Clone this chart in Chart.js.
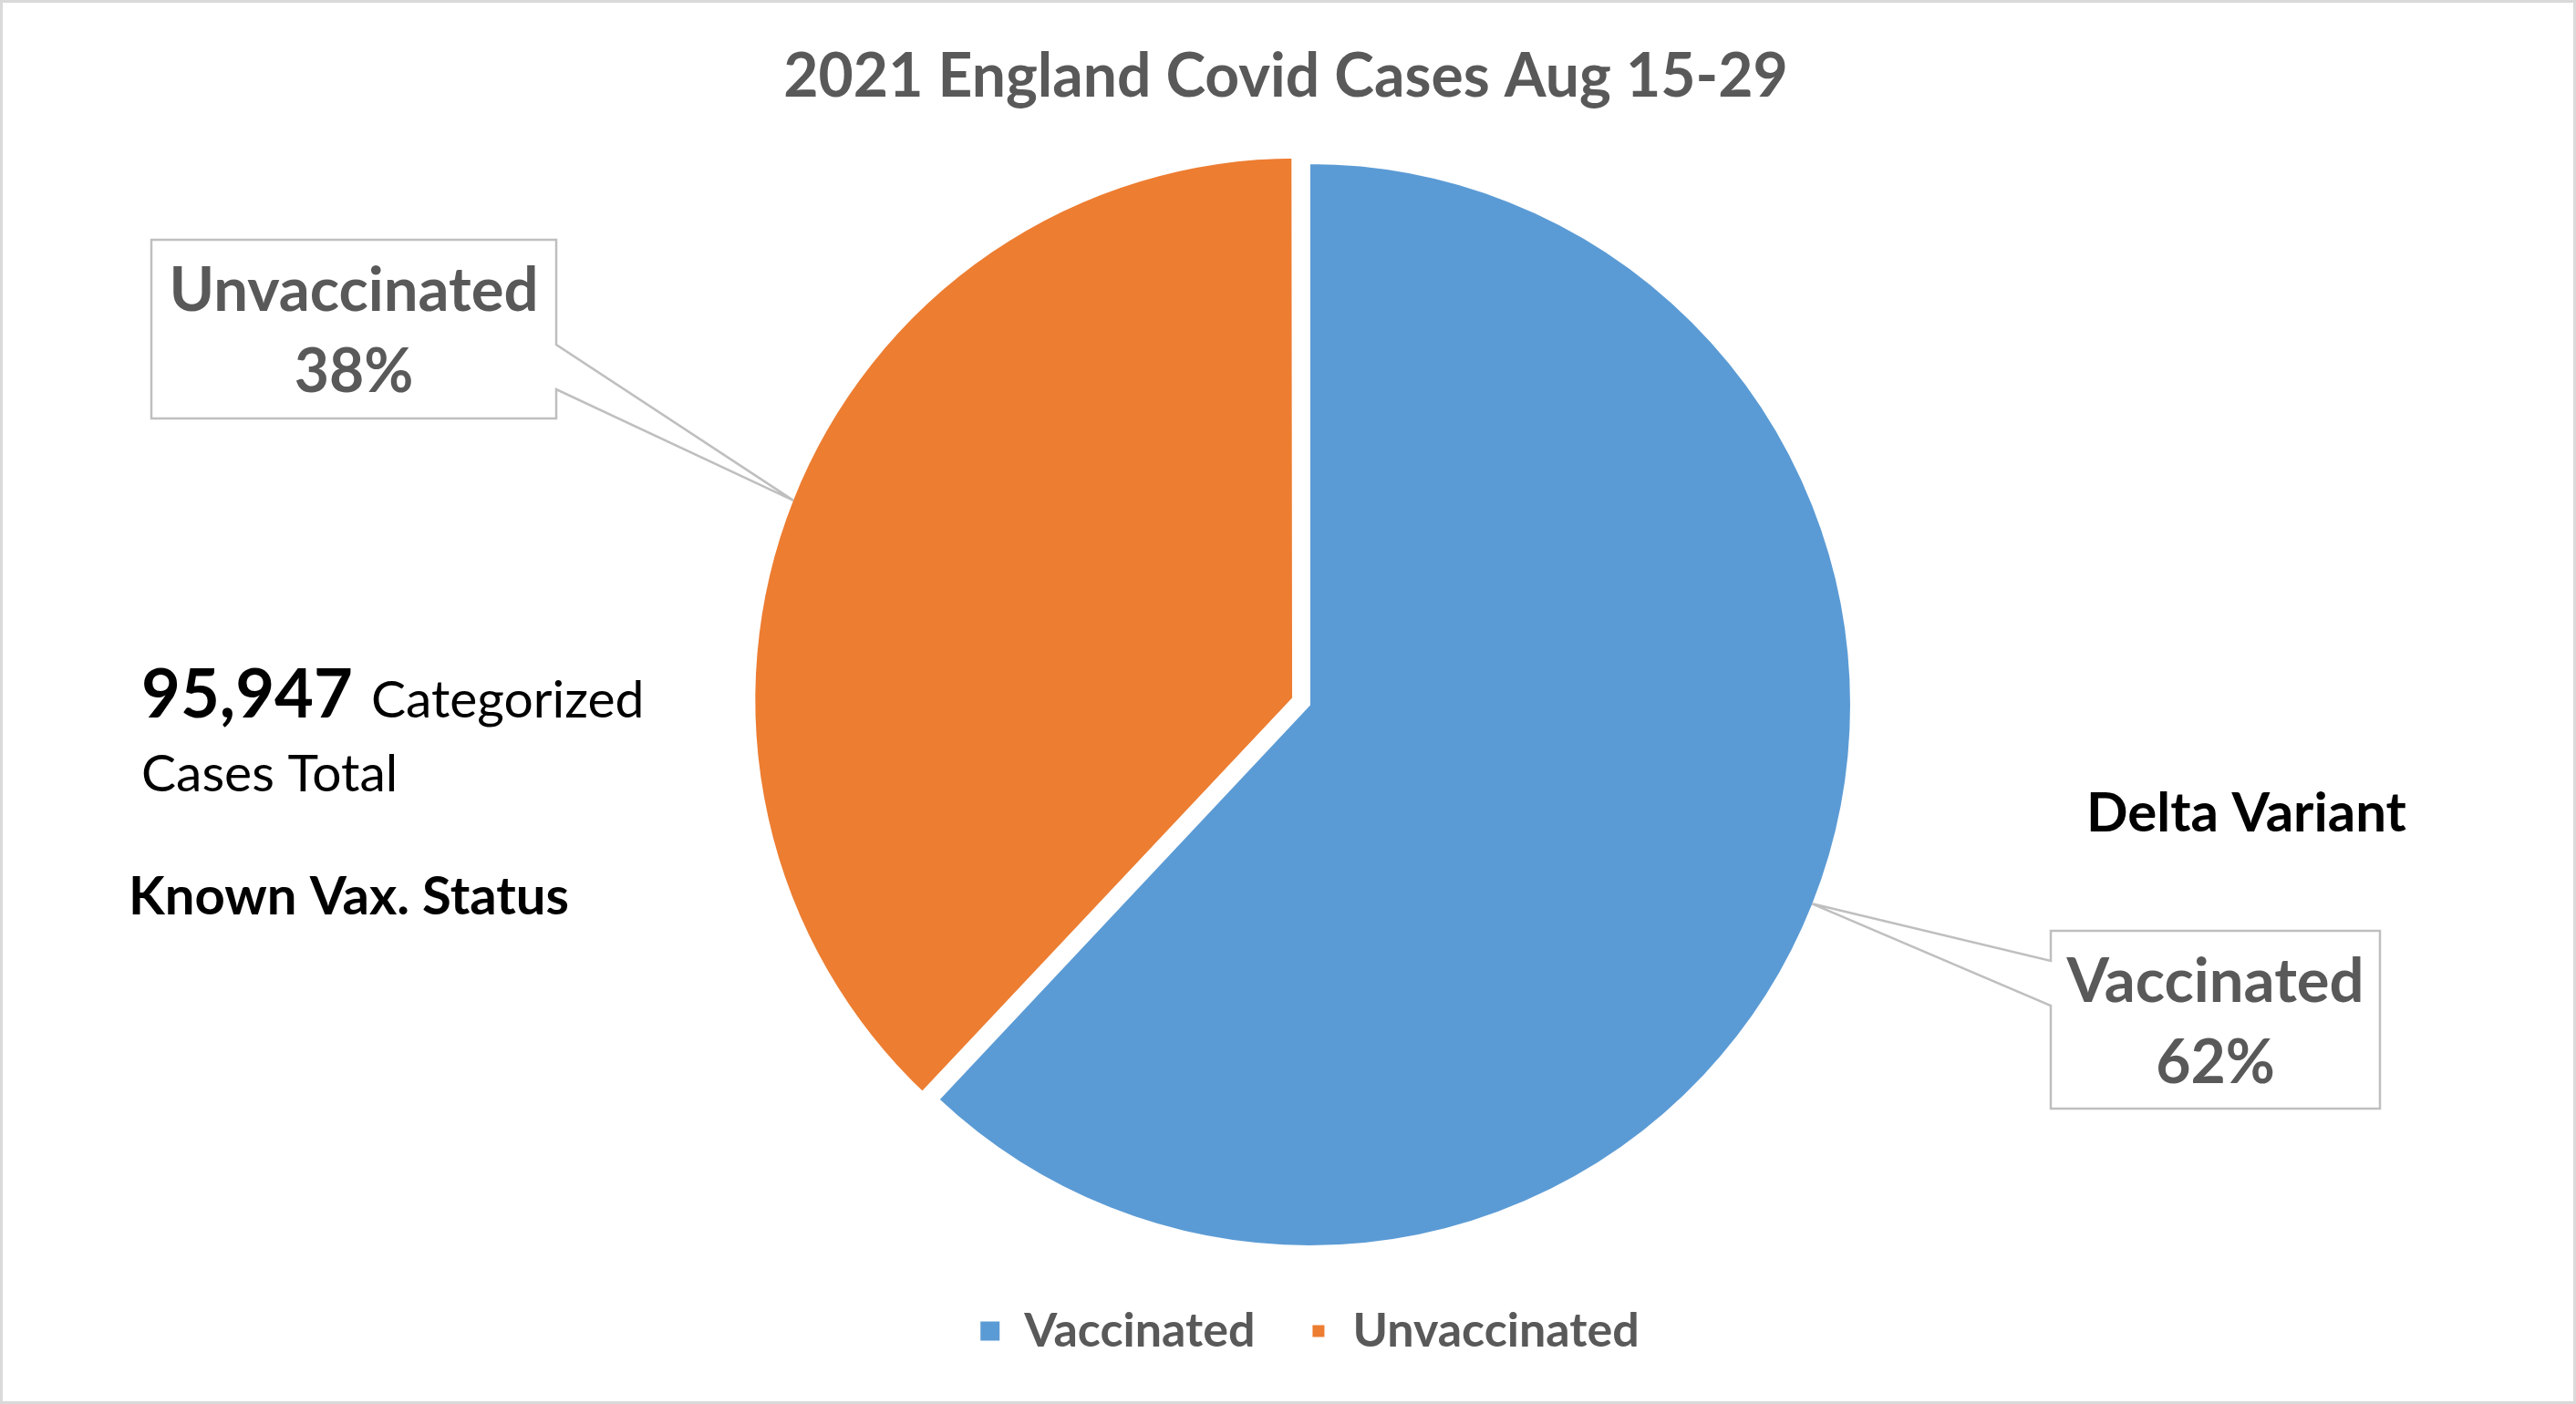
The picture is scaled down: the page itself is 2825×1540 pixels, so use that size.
<!DOCTYPE html>
<html>
<head>
<meta charset="utf-8">
<title>2021 England Covid Cases Aug 15-29</title>
<script src="https://cdn.jsdelivr.net/npm/chart.js@4/dist/chart.umd.min.js"></script>
<style>
  html, body { margin: 0; padding: 0; background: #fff; overflow: hidden; }
  canvas { display: block; }
</style>
</head>
<body>
<canvas id="chart" width="2825" height="1540"></canvas>
<script>
const chartTitle = "2021 England Covid Cases Aug 15-29";
const categories = ["Vaccinated", "Unvaccinated"];
const sharePercent = [62, 38];
const sliceColors = ["#5B9BD5", "#ED7D31"];
const totalCases = 95947;
const noteLines = ["Categorized", "Cases Total"];
const statusNote = "Known Vax. Status";
const variantNote = "Delta Variant";

// hand placed callout boxes, same order as categories
const calloutLayout = [
    { x: 2249, y: 1021, w: 361, h: 195, side: "left", from: 1054, to: 1103 },
    { x: 166, y: 263, w: 444, h: 196, side: "right", from: 378, to: 427 }
];

const GREY_TEXT = "#595959";
const FONT = "Lato, 'Open Sans', sans-serif";

function font(weight, size) {
    return `${weight} ${size}px ${FONT}`;
}

const frameAndNotes = {
    id: "frameAndNotes",
    beforeDraw(chart) {
        const ctx = chart.ctx;
        ctx.save();
        ctx.fillStyle = "#fff";
        ctx.fillRect(0, 0, chart.width, chart.height);
        ctx.restore();
    },
    afterDraw(chart) {
        const ctx = chart.ctx;
        ctx.save();
        ctx.strokeStyle = "#D9D9D9";
        ctx.lineWidth = 3;
        ctx.strokeRect(1.5, 1.5, chart.width - 3, chart.height - 3);

        ctx.textBaseline = "alphabetic";
        ctx.fillStyle = GREY_TEXT;
        ctx.textAlign = "center";
        ctx.font = font(700, 66);
        ctx.fillText(chartTitle, 1410, 106);

        ctx.fillStyle = "#000";
        ctx.textAlign = "left";
        ctx.font = font(700, 74);
        const total = totalCases.toLocaleString("en-US");
        ctx.fillText(total, 155, 787);
        const w = ctx.measureText(total).width;
        ctx.font = font(400, 57);
        ctx.fillText(noteLines[0], 155 + w + 20, 787);
        ctx.fillText(noteLines[1], 155, 868);

        ctx.font = font(700, 58);
        ctx.fillText(statusNote, 141, 1003);
        ctx.font = font(700, 60);
        ctx.fillText(variantNote, 2288, 912);
        ctx.restore();
    }
};

const callouts = {
    id: "callouts",
    afterDatasetsDraw(chart) {
        const ctx = chart.ctx;
        const meta = chart.getDatasetMeta(0);
        const values = chart.data.datasets[0].data;
        const sum = values.reduce((a, b) => a + b, 0);

        meta.data.forEach((arc, i) => {
            const box = calloutLayout[i];
            const p = arc.getProps(["x", "y", "startAngle", "endAngle", "outerRadius", "circumference"], true);
            const off = (arc.options.offset || 0) / 4;
            const fix = 1 - Math.sin(Math.min(Math.PI, p.circumference));
            const mid = (p.startAngle + p.endAngle) / 2;
            const r = p.outerRadius + off + off * fix - (arc.options.borderWidth || 0) / 2;
            const tipX = p.x + Math.cos(mid) * r;
            const tipY = p.y + Math.sin(mid) * r;

            const L = box.x, T = box.y, R = box.x + box.w, B = box.y + box.h;
            ctx.save();
            ctx.beginPath();
            if (box.side === "left") {
                ctx.moveTo(L, T);
                ctx.lineTo(R, T);
                ctx.lineTo(R, B);
                ctx.lineTo(L, B);
                ctx.lineTo(L, box.to);
                ctx.lineTo(tipX, tipY);
                ctx.lineTo(L, box.from);
            } else {
                ctx.moveTo(L, T);
                ctx.lineTo(R, T);
                ctx.lineTo(R, box.from);
                ctx.lineTo(tipX, tipY);
                ctx.lineTo(R, box.to);
                ctx.lineTo(R, B);
                ctx.lineTo(L, B);
            }
            ctx.closePath();
            ctx.fillStyle = "#fff";
            ctx.fill();
            ctx.strokeStyle = "#BFBFBF";
            ctx.lineWidth = 2.5;
            ctx.stroke();

            const cx = L + box.w / 2;
            const cy = T + box.h / 2;
            ctx.fillStyle = GREY_TEXT;
            ctx.textAlign = "center";
            ctx.textBaseline = "alphabetic";
            ctx.font = font(700, 67);
            ctx.fillText(chart.data.labels[i], cx, cy - 20);
            ctx.font = font(700, 66);
            ctx.fillText(Math.round(values[i] / sum * 100) + "%", cx, cy + 69);
            ctx.restore();
        });
    }
};

new Chart(document.getElementById("chart"), {
    type: "pie",
    data: {
        labels: categories,
        datasets: [{
            data: sharePercent,
            backgroundColor: sliceColors,
            borderColor: "#fff",
            borderWidth: [2, 10],
            offset: [0, 60],
            radius: 594
        }]
    },
    options: {
        responsive: false,
        animation: false,
        devicePixelRatio: 1,
        layout: {
            padding: { top: 170, bottom: 44, left: 47, right: 0 }
        },
        plugins: {
            title: { display: false },
            tooltip: { enabled: false },
            legend: {
                position: "bottom",
                labels: {
                    color: GREY_TEXT,
                    font: { family: FONT, size: 52, weight: "bold" },
                    boxWidth: 23,
                    boxHeight: 23,
                    padding: 58
                }
            }
        }
    },
    plugins: [frameAndNotes, callouts]
});
</script>
</body>
</html>
